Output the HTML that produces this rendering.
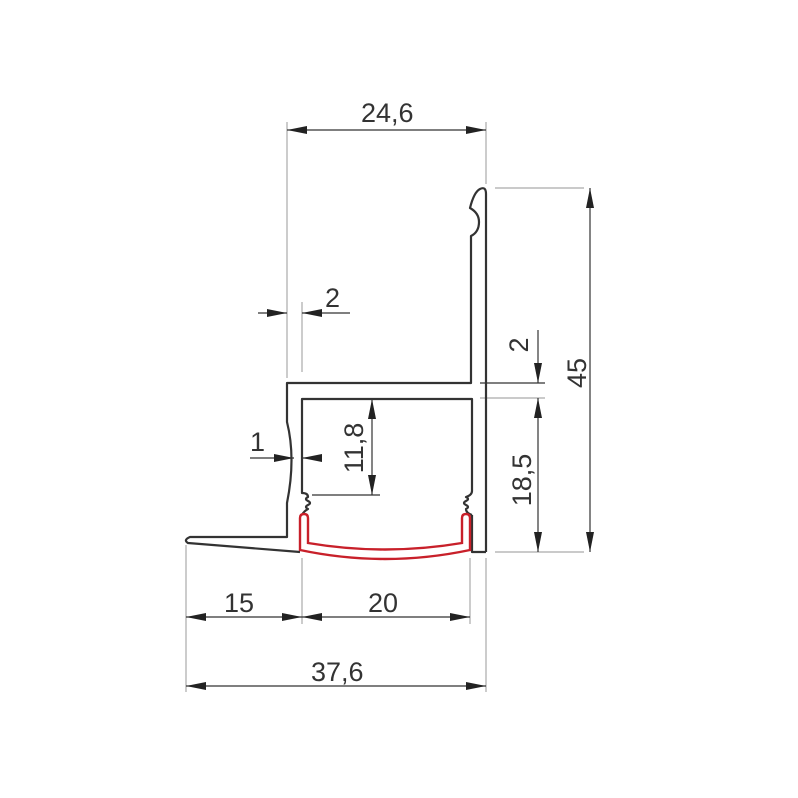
<!DOCTYPE html>
<html><head><style>body{margin:0;background:#fff}svg{display:block}text{font-family:"Liberation Sans",sans-serif;font-size:27px;fill:#333}</style></head><body>
<svg width="798" height="798" viewBox="0 0 798 798" xmlns="http://www.w3.org/2000/svg">
<defs>
<marker id="a" viewBox="0 0 20 8" refX="20" refY="4" markerWidth="20" markerHeight="8" markerUnits="userSpaceOnUse" orient="auto-start-reverse"><path d="M0,0L20,4L0,8z" fill="#222"/></marker>
</defs>
<g stroke="#aaa" stroke-width="1.2" fill="none">
<line x1="287" y1="122" x2="287" y2="378"/>
<line x1="486" y1="122" x2="486" y2="184"/>
<line x1="302" y1="302" x2="302" y2="372"/>
<line x1="495" y1="188" x2="584" y2="188"/>
<line x1="495" y1="552" x2="584" y2="552"/>
<line x1="186" y1="545" x2="186" y2="692"/>
<line x1="302" y1="558" x2="302" y2="624"/>
<line x1="470" y1="558" x2="470" y2="624"/>
<line x1="486" y1="558" x2="486" y2="692"/>
<line x1="480" y1="398" x2="545" y2="398"/>
</g>
<g stroke="#333" stroke-width="1.2" fill="none">
<line x1="480" y1="383" x2="545" y2="383"/>
<line x1="312" y1="495" x2="380" y2="495"/>
<line x1="287" y1="130" x2="486" y2="130" marker-start="url(#a)" marker-end="url(#a)"/>
<line x1="590" y1="188" x2="590" y2="552" marker-start="url(#a)" marker-end="url(#a)"/>
<line x1="372" y1="399" x2="372" y2="495" marker-start="url(#a)" marker-end="url(#a)"/>
<line x1="538" y1="398" x2="538" y2="552" marker-start="url(#a)" marker-end="url(#a)"/>
<line x1="538" y1="330" x2="538" y2="383" marker-end="url(#a)"/>
<line x1="258" y1="313" x2="287" y2="313" marker-end="url(#a)"/>
<line x1="350" y1="313" x2="302" y2="313" marker-end="url(#a)"/>
<line x1="250" y1="458" x2="294" y2="458" marker-end="url(#a)"/>
<line x1="322" y1="458" x2="302" y2="458" marker-end="url(#a)"/>
<line x1="186" y1="617" x2="302" y2="617" marker-start="url(#a)" marker-end="url(#a)"/>
<line x1="302" y1="617" x2="470" y2="617" marker-start="url(#a)" marker-end="url(#a)"/>
<line x1="186" y1="686" x2="486" y2="686" marker-start="url(#a)" marker-end="url(#a)"/>
</g>
<g stroke="#333" stroke-width="2.2" fill="none" stroke-linejoin="round">
<path d="M486,552 V194 Q486,186 480,189 Q474,192 470,208 Q479,213 479,222 Q479,232 471,236 V383 H287 V422 Q296,458 287,503 V537 H190 Q183,540 188,543 L300,552"/>
<path d="M486,552 H472 V515"/>
<path d="M472,515 q-6,-2 -6,-6 q4,-2 0,-4 q-4,-2 0,-4 q4,-2 0,-4 q6,-2 6,-6 V399 H302 V493 q6,0 6,4 q-4,2 0,4 q4,2 0,4 q-4,2 0,4 q-4,2 -6,6"/>
</g>
<g stroke="#c8202a" stroke-width="2.4" fill="none">
<path d="M300,550 V518 Q300,514 304,514 Q308,514 308,518 V543 Q385,556 462,543 V518 Q462,514 466,514 Q470,514 470,518 V550 Q385,568 300,550 Z"/>
</g>
<text x="361" y="122">24,6</text>
<text x="325" y="307">2</text>
<text x="250" y="451">1</text>
<text x="224" y="612">15</text>
<text x="368" y="612">20</text>
<text x="311" y="681">37,6</text>
<text transform="translate(586,373) rotate(-90)" text-anchor="middle">45</text>
<text transform="translate(528,345) rotate(-90)" text-anchor="middle">2</text>
<text transform="translate(531,480) rotate(-90)" text-anchor="middle">18,5</text>
<text transform="translate(363,448) rotate(-90)" text-anchor="middle">11,8</text>
</svg>
</body></html>
